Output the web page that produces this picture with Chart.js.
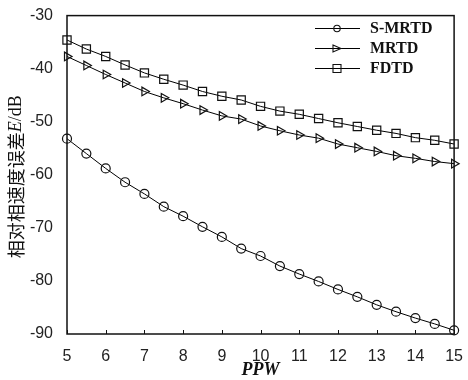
<!DOCTYPE html>
<html>
<head>
<meta charset="utf-8">
<script src="https://cdn.jsdelivr.net/npm/chart.js@4"></script>
<style>
  body { margin: 0; background: #fff; }
  #chart { display: block; }
</style>
</head>
<body>
<canvas id="chart" width="468" height="380"></canvas>
<script>
// Data
const ppw = [5, 5.5, 6, 6.5, 7, 7.5, 8, 8.5, 9, 9.5, 10, 10.5, 11, 11.5, 12, 12.5, 13, 13.5, 14, 14.5, 15];
const smrtd = [-53.2, -56.0, -58.8, -61.4, -63.6, -66.0, -67.8, -69.8, -71.7, -73.9, -75.3, -77.2, -78.7, -80.1, -81.6, -83.0, -84.5, -85.8, -87.0, -88.1, -89.3];
const mrtd = [-37.7, -39.4, -41.1, -42.7, -44.3, -45.5, -46.6, -47.8, -48.9, -49.5, -50.8, -51.7, -52.5, -53.1, -54.2, -54.9, -55.6, -56.4, -56.9, -57.5, -57.9];
const fdtd = [-34.6, -36.3, -37.7, -39.3, -40.8, -42.0, -43.1, -44.3, -45.2, -45.9, -47.1, -48.0, -48.6, -49.4, -50.2, -50.9, -51.6, -52.2, -53.0, -53.5, -54.2];
const seriesNames = ['S-MRTD', 'MRTD', 'FDTD'];
const xTicks = [5, 6, 7, 8, 9, 10, 11, 12, 13, 14, 15];
const yTicks = [-90, -80, -70, -60, -50, -40, -30];

const toPoints = vals => vals.map((v, i) => ({ x: ppw[i], y: v }));

function makeSet(label, vals, style, radius, rot) {
    return {
        label: label,
        data: toPoints(vals),
        borderColor: '#000',
        borderWidth: 1,
        pointStyle: style,
        pointRadius: radius,
        pointRotation: rot,
        pointBorderColor: '#111',
        pointBorderWidth: 1.2,
        pointBackgroundColor: 'rgba(0,0,0,0)',
        tension: 0,
        clip: false
    };
}

// frame, inward ticks, axis titles and legend
const decor = {
    id: 'decor',
    afterDraw(chart) {
        const ctx = chart.ctx;
        const a = chart.chartArea;
        const xs = chart.scales.x;
        ctx.save();
        ctx.strokeStyle = '#111';
        ctx.lineWidth = 1.5;
        ctx.strokeRect(a.left, a.top, a.right - a.left, a.bottom - a.top);

        ctx.lineWidth = 1;
        xTicks.forEach(t => {
            const px = Math.round(xs.getPixelForValue(t)) + 0.5;
            ctx.beginPath();
            ctx.moveTo(px, a.bottom);
            ctx.lineTo(px, a.bottom - 4);
            ctx.stroke();
        });

        // x title
        ctx.fillStyle = '#111';
        ctx.font = 'italic bold 18px "Liberation Serif"';
        ctx.textAlign = 'center';
        ctx.textBaseline = 'middle';
        ctx.fillText('PPW', (a.left + a.right) / 2, 370);

        // y title, rotated, with italic E
        const parts = [
            { t: '相对相速度误差', f: '18px "Noto Sans CJK SC"' },
            { t: 'E', f: 'italic 18px "Liberation Serif"' },
            { t: '/dB', f: '18px "Liberation Serif"' }
        ];
        let total = 0;
        parts.forEach(p => { ctx.font = p.f; p.w = ctx.measureText(p.t).width; total += p.w; });
        ctx.translate(16, (a.top + a.bottom) / 2 + 2);
        ctx.rotate(-Math.PI / 2);
        ctx.textAlign = 'left';
        let cx = -total / 2;
        parts.forEach(p => { ctx.font = p.f; ctx.fillText(p.t, cx, 0); cx += p.w; });
        ctx.setTransform(1, 0, 0, 1, 0, 0);

        // legend
        const rows = [28, 48, 68];
        chart.data.datasets.forEach((ds, i) => {
            const y = rows[i];
            ctx.strokeStyle = '#000';
            ctx.lineWidth = 1;
            ctx.beginPath();
            ctx.moveTo(315, y + 0.5);
            ctx.lineTo(360, y + 0.5);
            ctx.stroke();
            ctx.lineWidth = 1.1;
            ctx.strokeStyle = '#111';
            ctx.beginPath();
            if (ds.pointStyle === 'circle') ctx.arc(337, y + 0.5, 3.2, 0, Math.PI * 2);
            else if (ds.pointStyle === 'rect') ctx.rect(333, y - 3.5, 8, 8);
            else { ctx.moveTo(333, y - 3); ctx.lineTo(341, y + 0.5); ctx.lineTo(333, y + 4); ctx.closePath(); }
            ctx.stroke();
            ctx.fillStyle = '#111';
            ctx.font = 'bold 16px "Liberation Serif"';
            ctx.textAlign = 'left';
            ctx.textBaseline = 'middle';
            ctx.fillText(ds.label, 370, y + 1);
        });
        ctx.restore();
    }
};

new Chart(document.getElementById('chart').getContext('2d'), {
    type: 'line',
    data: {
        datasets: [
            makeSet(seriesNames[0], smrtd, 'circle', 4.5, 0),
            makeSet(seriesNames[1], mrtd, 'triangle', 5, 90),
            makeSet(seriesNames[2], fdtd, 'rect', 5.8, 0)
        ]
    },
    options: {
        responsive: false,
        animation: false,
        layout: { padding: { top: 13, right: 10, left: 0, bottom: 0 } },
        plugins: {
            legend: { display: false },
            tooltip: { enabled: false }
        },
        scales: {
            x: {
                type: 'linear',
                min: 5,
                max: 15,
                afterBuildTicks: s => { s.ticks = xTicks.map(v => ({ value: v })); },
                afterFit: s => { s.height = 46; },
                grid: { display: false },
                border: { display: false },
                ticks: { padding: 5, color: '#222', font: { family: 'Liberation Sans', size: 16 } }
            },
            y: {
                min: -90,
                max: -30,
                afterBuildTicks: s => { s.ticks = yTicks.map(v => ({ value: v })); },
                afterFit: s => { s.width = 67; },
                grid: { display: false },
                border: { display: false },
                ticks: { padding: 6, color: '#222', font: { family: 'Liberation Sans', size: 16 } }
            }
        }
    },
    plugins: [decor]
});
</script>
</body>
</html>
